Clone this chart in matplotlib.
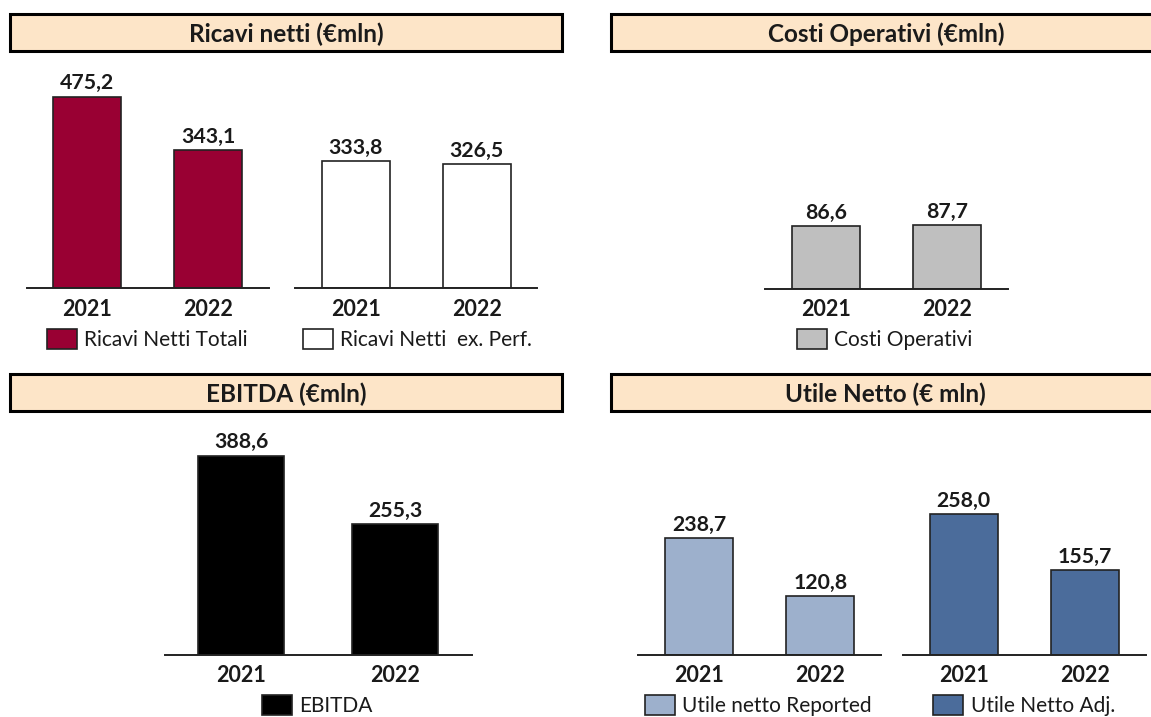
import matplotlib
matplotlib.use("Agg")
import matplotlib.pyplot as plt
from matplotlib.patches import Rectangle

plt.rcParams['font.family'] = ['Lato', 'DejaVu Sans']

# Data
years = ['2021', '2022']
ricavi_totali = [475.2, 343.1]
ricavi_ex_perf = [333.8, 326.5]
costi_operativi = [86.6, 87.7]
ebitda = [388.6, 255.3]
utile_reported = [238.7, 120.8]
utile_adj = [258.0, 155.7]

W, H = 1151, 717
fig = plt.figure(figsize=(W / 100, H / 100), dpi=100)
fig.patch.set_facecolor('white')

header_fill = '#FDE5C8'
text_col = '#1a1a1a'


def header(x0, x1, y0, y1, title):
    fig.add_artist(Rectangle((x0 / W, 1 - y1 / H), (x1 - x0) / W, (y1 - y0) / H,
                             transform=fig.transFigure, facecolor=header_fill,
                             edgecolor='black', linewidth=2.2, clip_on=False))
    fig.text((x0 + x1) / 2 / W, 1 - (y1 - 9) / H, title, ha='center', va='baseline',
             fontsize=17.5, fontweight='bold', color=text_col)


def panel(x0, x1, base, height, ymax, values, color, label, leg_x, leg_y):
    ax = fig.add_axes([x0 / W, 1 - base / H, (x1 - x0) / W, height / H])
    bars = ax.bar(range(len(values)), values, width=0.56, color=color,
                  edgecolor='#222222', linewidth=1.2, label=label)
    for b, v in zip(bars, values):
        ax.annotate(f"{v:.1f}".replace('.', ','), (b.get_x() + b.get_width() / 2, v),
                    xytext=(0, 5.2), textcoords='offset points', ha='center',
                    va='baseline', fontsize=15.3, fontweight='bold', color=text_col)
    ax.set_xlim(-0.5, len(values) - 0.5)
    ax.set_ylim(0, ymax)
    ax.set_xticks(range(len(values)))
    ax.set_xticklabels(years, fontsize=15.5, fontweight='bold', color=text_col)
    ax.tick_params(axis='x', length=0, pad=7.5)
    ax.set_yticks([])
    for s in ['top', 'left', 'right']:
        ax.spines[s].set_visible(False)
    ax.spines['bottom'].set_linewidth(1.4)
    ax.spines['bottom'].set_color('#222222')
    ax.patch.set_alpha(0)
    fig.legend(handles=[bars], labels=[label], loc='center left',
               bbox_to_anchor=(leg_x / W, 1 - leg_y / H), frameon=False,
               borderpad=0, borderaxespad=0, handlelength=1.45, handleheight=1.1,
               handletextpad=0.35, fontsize=15, labelcolor=text_col)
    return ax


header(10.4, 561.6, 14, 50.7, 'Ricavi netti (€mln)')
header(610.6, 1161, 14, 50.7, 'Costi Operativi (€mln)')
header(10.4, 561.6, 374, 410.7, 'EBITDA (€mln)')
header(610.6, 1161, 374, 410.7, 'Utile Netto (€ mln)')

panel(26.6, 269, 288.3, 228, 565, ricavi_totali, '#990033', 'Ricavi Netti Totali', 46.6, 339.8)
panel(295.2, 537.2, 288.3, 228, 598, ricavi_ex_perf, 'white', 'Ricavi Netti  ex. Perf.', 302.6, 339.8)
panel(765.4, 1007.9, 288.5, 228, 316.7, costi_operativi, '#BFBFBF', 'Costi Operativi', 796.7, 339.8)
panel(164.6, 471.7, 655, 235, 458, ebitda, 'black', 'EBITDA', 261.6, 705.5)
panel(638.3, 881.2, 655, 235, 480.6, utile_reported, '#9DB0CC', 'Utile netto Reported', 644.8, 705.5)
panel(903, 1145.5, 655, 235, 431, utile_adj, '#4B6C9B', 'Utile Netto Adj.', 933.2, 705.5)

fig.savefig('out.png', dpi=100)
